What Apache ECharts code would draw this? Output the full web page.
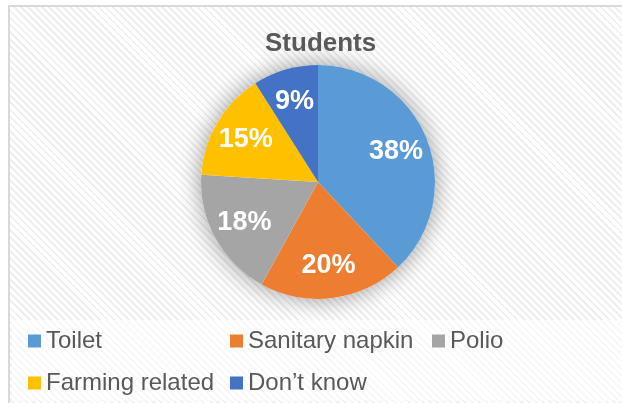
<!DOCTYPE html>
<html>
<head>
<meta charset="utf-8">
<script src="https://cdn.jsdelivr.net/npm/echarts@6/dist/echarts.min.js"></script>
<style>
  body { margin: 0; background: #fff; }
  #bg {
    position: absolute; left: 8px; top: 5px; width: 614px; height: 398px;
    border-left: 2px solid #d9d9d9; border-top: 2px solid #d9d9d9;
    background: repeating-linear-gradient(45deg, #ffffff 0px, #ffffff 3px, #efefef 3px, #efefef 5px);
  }
  #legbg {
    position: absolute; left: 12px; top: 320px; width: 610px; height: 81px;
    background: repeating-linear-gradient(45deg, #ffffff 0px, #ffffff 3px, #f8f8f8 3px, #f8f8f8 5px);
  }
  #chart { position: absolute; left: 0; top: 0; width: 622px; height: 403px; }
</style>
</head>
<body>
<div id="bg"></div>
<div id="legbg"></div>
<div id="chart"></div>
<script>
const categorias = ['Toilet', 'Sanitary napkin', 'Polio', 'Farming related', 'Don’t know']
const valores = [38, 20, 18, 15, 9]
const colores = ['#5b9bd5', '#ed7d31', '#a5a5a5', '#ffc000', '#4472c4']

const datos = categorias.map((nombre, i) => ({ name: nombre, value: valores[i], itemStyle: { color: colores[i] } }))

const chart = echarts.init(document.getElementById('chart'))
chart.setOption({
  backgroundColor: 'transparent',
  animation: false,
  title: {
    text: 'Students',
    left: 265,
    top: 31,
    padding: 0,
    textStyle: { fontFamily: 'Liberation Sans', fontSize: 26, fontWeight: 'bold', color: '#595959' }
  },
  legend: {
    data: categorias,
    left: 28,
    top: 325,
    padding: 0,
    width: 600,
    itemWidth: 13,
    itemHeight: 13,
    itemGap: 10,
    icon: 'rect',
    textStyle: { fontFamily: 'Liberation Sans', fontSize: 24, color: '#595959', width: 174, lineHeight: 32 }
  },
  series: [
    {
      // sombra debajo del pastel
      type: 'pie',
      silent: true,
      center: [318, 182],
      radius: [0, 117],
      label: { show: false },
      data: [{ name: '', value: 1, itemStyle: { color: '#ffffff', shadowBlur: 25, shadowColor: 'rgba(0,0,0,0.4)' } }]
    },
    {
      type: 'pie',
      center: [318, 182],
      radius: [0, 117],
      startAngle: 90,
      clockwise: true,
      label: { show: false },
      labelLine: { show: false },
      data: datos
    },
    {
      // serie invisible solo para ubicar las etiquetas
      type: 'pie',
      silent: true,
      center: [318, 182],
      radius: [44, 118],
      startAngle: 90,
      clockwise: true,
      itemStyle: { color: 'transparent' },
      label: {
        show: true,
        position: 'inside',
        formatter: p => p.value + '%',
        fontFamily: 'Liberation Sans',
        fontSize: 27,
        fontWeight: 'bold',
        color: '#ffffff'
      },
      labelLine: { show: false },
      data: categorias.map((nombre, i) => ({ name: nombre, value: valores[i] }))
    }
  ]
})
</script>
</body>
</html>
